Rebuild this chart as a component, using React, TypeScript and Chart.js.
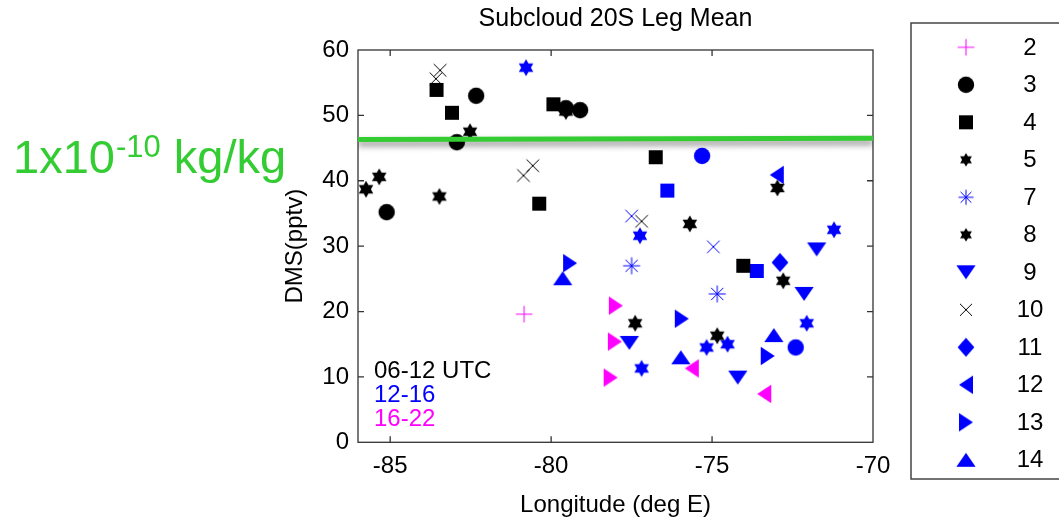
import React, { useEffect, useRef } from 'react';
import { Chart, registerables } from 'chart.js';

Chart.register(...registerables);

// ---------- data ----------
const xTicks = [-85, -80, -75, -70];
const yTicks = [0, 10, 20, 30, 40, 50, 60];
const thresholdLine = [{ x: -86, y: 46.3 }, { x: -70, y: 46.5 }];

const f2Magenta = [{ x: -80.84, y: 19.6 }];
const f3Black = [
  { x: -82.33, y: 53.0 }, { x: -79.54, y: 51.1 }, { x: -79.1, y: 50.8 },
  { x: -82.93, y: 45.9 }, { x: -85.11, y: 35.2 },
];
const f3Blue = [{ x: -75.31, y: 43.8 }, { x: -72.4, y: 14.5 }];
const f4Black = [
  { x: -83.56, y: 53.9 }, { x: -83.08, y: 50.4 }, { x: -79.93, y: 51.7 },
  { x: -80.37, y: 36.5 }, { x: -76.75, y: 43.6 }, { x: -74.03, y: 27.0 },
];
const f4Blue = [{ x: -76.39, y: 38.5 }, { x: -73.61, y: 26.2 }];
const f5Black = [
  { x: -85.34, y: 40.6 }, { x: -85.75, y: 38.7 }, { x: -83.47, y: 37.6 },
  { x: -82.52, y: 47.5 }, { x: -79.54, y: 50.6 },
];
const f7Blue = [{ x: -77.5, y: 27.0 }, { x: -74.84, y: 22.7 }];
const f8Black = [
  { x: -75.69, y: 33.4 }, { x: -72.97, y: 38.9 }, { x: -72.79, y: 24.7 },
  { x: -77.39, y: 18.2 }, { x: -74.84, y: 16.3 },
];
const f8Blue = [
  { x: -80.78, y: 57.3 }, { x: -71.21, y: 32.5 }, { x: -77.24, y: 31.6 },
  { x: -72.06, y: 18.2 }, { x: -75.17, y: 14.5 }, { x: -74.52, y: 15.0 },
  { x: -77.19, y: 11.3 },
];
const f9Blue = [
  { x: -71.75, y: 29.5 }, { x: -72.14, y: 22.7 }, { x: -77.57, y: 15.2 },
  { x: -74.2, y: 9.9 },
];
const f10Black = [
  { x: -83.45, y: 56.9 }, { x: -83.58, y: 55.6 }, { x: -80.57, y: 42.3 },
  { x: -80.86, y: 40.8 }, { x: -77.19, y: 33.8 },
];
const f10Blue = [{ x: -77.5, y: 34.6 }, { x: -74.96, y: 29.9 }];
const f11Blue = [{ x: -72.89, y: 27.5 }];
const f12Blue = [{ x: -72.99, y: 40.9 }];
const f12Magenta = [{ x: -75.63, y: 11.3 }, { x: -73.38, y: 7.4 }];
const f13Blue = [{ x: -79.41, y: 27.4 }, { x: -75.94, y: 18.9 }, { x: -73.27, y: 13.2 }];
const f13Magenta = [{ x: -77.99, y: 20.9 }, { x: -78.02, y: 15.4 }, { x: -78.15, y: 9.9 }];
const f14Blue = [{ x: -79.64, y: 25.1 }, { x: -75.97, y: 13.0 }, { x: -73.08, y: 16.4 }];

const legendLabels = ['2', '3', '4', '5', '7', '8', '9', '10', '11', '12', '13', '14'];
const periodLabels = ['06-12 UTC', '12-16', '16-22'];

// ---------- styles ----------
const BLACK = '#000000';
const BLUE = '#0000ff';
const MAGENTA = '#ff00ff';
const GREEN = '#33cc33';
const FONT = "'Liberation Sans', Arial, Helvetica, sans-serif";

type Kind = 'plus' | 'circle' | 'square' | 'hexagram' | 'asterisk' | 'triDown' | 'x' | 'diamond' | 'triLeft' | 'triRight' | 'triUp';

const cache = new Map<string, HTMLCanvasElement>();
function marker(kind: Kind, color: string, legend = false): HTMLCanvasElement {
  const key = kind + color + legend;
  const hit = cache.get(key);
  if (hit) return hit;
  const W = 24;
  const c = document.createElement('canvas');
  c.width = W;
  c.height = W;
  const g = c.getContext('2d')!;
  const cx = W / 2, cy = W / 2;
  g.fillStyle = color;
  g.strokeStyle = color;
  g.lineWidth = 1;
  g.beginPath();
  const poly = (pts: number[][]) => {
    g.moveTo(cx + pts[0][0], cy + pts[0][1]);
    for (let i = 1; i < pts.length; i++) g.lineTo(cx + pts[i][0], cy + pts[i][1]);
    g.closePath();
    g.fill();
  };
  switch (kind) {
    case 'plus': {
      const r = 8.3;
      g.moveTo(cx - r, cy); g.lineTo(cx + r, cy);
      g.moveTo(cx, cy - r); g.lineTo(cx, cy + r);
      g.stroke();
      break;
    }
    case 'x': {
      const d = legend ? 6 : 6.3;
      g.moveTo(cx - d, cy - d); g.lineTo(cx + d, cy + d);
      g.moveTo(cx + d, cy - d); g.lineTo(cx - d, cy + d);
      g.stroke();
      break;
    }
    case 'asterisk': {
      const r = legend ? 7.5 : 8.5;
      const d = r * 0.72;
      g.moveTo(cx - r, cy); g.lineTo(cx + r, cy);
      g.moveTo(cx, cy - r); g.lineTo(cx, cy + r);
      g.moveTo(cx - d, cy - d); g.lineTo(cx + d, cy + d);
      g.moveTo(cx + d, cy - d); g.lineTo(cx - d, cy + d);
      g.stroke();
      break;
    }
    case 'circle':
      g.arc(cx, cy, 8.2, 0, Math.PI * 2);
      g.fill();
      break;
    case 'square':
      g.fillRect(cx - 7, cy - 7, 14, 14);
      break;
    case 'diamond':
      poly([[0, -9.5], [8.4, 0], [0, 9.5], [-8.4, 0]]);
      break;
    case 'hexagram': {
      const R = legend ? 6.8 : 8.4;
      const r = R / Math.sqrt(3);
      const pts: number[][] = [];
      for (let i = 0; i < 12; i++) {
        const a = -Math.PI / 2 + (i * Math.PI) / 6;
        const rr = i % 2 === 0 ? R : r;
        pts.push([rr * Math.cos(a), rr * Math.sin(a)]);
      }
      poly(pts);
      break;
    }
    case 'triUp':
      poly([[0, -7], [9.6, 7], [-9.6, 7]]);
      break;
    case 'triDown':
      poly([[0, 7], [9.6, -7], [-9.6, -7]]);
      break;
    case 'triLeft':
      poly([[-7, 0], [7, -9.3], [7, 9.3]]);
      break;
    case 'triRight':
      poly([[7, 0], [-7, -9.3], [-7, 9.3]]);
      break;
  }
  cache.set(key, c);
  return c;
}

const seriesList: { label: string; data: { x: number; y: number }[]; kind: Kind; color: string }[] = [
  { label: '2', data: f2Magenta, kind: 'plus', color: MAGENTA },
  { label: '3', data: f3Black, kind: 'circle', color: BLACK },
  { label: '3', data: f3Blue, kind: 'circle', color: BLUE },
  { label: '4', data: f4Black, kind: 'square', color: BLACK },
  { label: '4', data: f4Blue, kind: 'square', color: BLUE },
  { label: '5', data: f5Black, kind: 'hexagram', color: BLACK },
  { label: '7', data: f7Blue, kind: 'asterisk', color: BLUE },
  { label: '8', data: f8Black, kind: 'hexagram', color: BLACK },
  { label: '8', data: f8Blue, kind: 'hexagram', color: BLUE },
  { label: '9', data: f9Blue, kind: 'triDown', color: BLUE },
  { label: '10', data: f10Black, kind: 'x', color: BLACK },
  { label: '10', data: f10Blue, kind: 'x', color: BLUE },
  { label: '11', data: f11Blue, kind: 'diamond', color: BLUE },
  { label: '12', data: f12Blue, kind: 'triLeft', color: BLUE },
  { label: '12', data: f12Magenta, kind: 'triLeft', color: MAGENTA },
  { label: '13', data: f13Blue, kind: 'triRight', color: BLUE },
  { label: '13', data: f13Magenta, kind: 'triRight', color: MAGENTA },
  { label: '14', data: f14Blue, kind: 'triUp', color: BLUE },
];

const periodColors = [BLACK, BLUE, MAGENTA];

const decorPlugin = {
  id: 'decor',
  beforeDatasetsDraw(chart: any) {
    const { ctx, chartArea: a, scales } = chart;
    ctx.save();
    ctx.strokeStyle = '#333333';
    ctx.lineWidth = 1.3;
    ctx.strokeRect(a.left, a.top, a.right - a.left, a.bottom - a.top);
    const tl = 6;
    ctx.beginPath();
    xTicks.forEach((v) => {
      const p = scales.x.getPixelForValue(v);
      if (p > a.left + 1 && p < a.right - 1) {
        ctx.moveTo(p, a.bottom); ctx.lineTo(p, a.bottom - tl);
        ctx.moveTo(p, a.top); ctx.lineTo(p, a.top + tl);
      }
    });
    yTicks.forEach((v) => {
      const p = scales.y.getPixelForValue(v);
      if (p > a.top + 1 && p < a.bottom - 1) {
        ctx.moveTo(a.left, p); ctx.lineTo(a.left + tl, p);
        ctx.moveTo(a.right, p); ctx.lineTo(a.right - tl, p);
      }
    });
    ctx.stroke();
    ctx.restore();
  },
  beforeDatasetDraw(chart: any, args: any) {
    if (args.index === 0) {
      const ctx = chart.ctx;
      ctx.save();
      ctx.shadowColor = 'rgba(0,0,0,0.45)';
      ctx.shadowBlur = 6;
      ctx.shadowOffsetY = 4;
    }
  },
  afterDatasetDraw(chart: any, args: any) {
    if (args.index === 0) chart.ctx.restore();
  },
  afterDraw(chart: any) {
    const ctx = chart.ctx;
    ctx.save();
    // time period labels
    ctx.font = `24px ${FONT}`;
    ctx.textAlign = 'left';
    ctx.textBaseline = 'alphabetic';
    periodLabels.forEach((t, i) => {
      ctx.fillStyle = periodColors[i];
      ctx.fillText(t, 374, 378 + i * 24);
    });
    // green annotation
    ctx.fillStyle = GREEN;
    ctx.font = `47px ${FONT}`;
    ctx.fillText('1x10', 13, 173);
    let x = 13 + ctx.measureText('1x10').width + 1;
    ctx.font = `31px ${FONT}`;
    ctx.fillText('-10', x, 157);
    x += ctx.measureText('-10').width;
    ctx.font = `47px ${FONT}`;
    ctx.fillText(' kg/kg', x, 173);
    // legend box
    ctx.strokeStyle = '#444444';
    ctx.lineWidth = 1.5;
    ctx.strokeRect(911, 23, 170, 456);
    const kinds: Kind[] = [];
    const colors: string[] = [];
    legendLabels.forEach((lab) => {
      const s = seriesList.find((q) => q.label === lab)!;
      kinds.push(s.kind);
      colors.push(s.color);
    });
    ctx.font = `24px ${FONT}`;
    ctx.textAlign = 'center';
    ctx.textBaseline = 'middle';
    ctx.fillStyle = BLACK;
    legendLabels.forEach((lab, i) => {
      const y = 47.3 + i * 37.5;
      const img = marker(kinds[i], colors[i], true);
      ctx.drawImage(img, 966 - img.width / 2, y - img.height / 2);
      ctx.fillText(lab, 1030, y + 1);
    });
    ctx.restore();
  },
};

export default function App() {
  const ref = useRef<HTMLCanvasElement>(null);
  useEffect(() => {
    Chart.defaults.font.family = FONT;
    Chart.defaults.color = '#000000';
    const datasets: any[] = [
      {
        type: 'line',
        label: 'threshold',
        data: thresholdLine,
        borderColor: GREEN,
        borderWidth: 5,
        pointRadius: 0,
        fill: false,
        order: 0,
      },
      ...seriesList.map((s) => ({
        type: 'scatter',
        label: s.label,
        data: s.data,
        pointStyle: marker(s.kind, s.color),
        pointRadius: 8,
        order: 1,
      })),
    ];
    const chart = new Chart(ref.current!, {
      type: 'scatter',
      data: { datasets },
      options: {
        animation: false,
        responsive: false,
        devicePixelRatio: 1,
        layout: { padding: { left: 0, right: 186, top: 0, bottom: 0 } },
        plugins: {
          legend: { display: false },
          tooltip: { enabled: false },
          title: {
            display: true,
            text: 'Subcloud 20S Leg Mean',
            fullSize: false,
            color: '#000000',
            font: { size: 25, weight: 'normal', family: FONT },
            padding: { top: 4, bottom: 16 },
          },
        },
        scales: {
          x: {
            type: 'linear',
            min: -86,
            max: -70,
            afterBuildTicks: (s: any) => { s.ticks = xTicks.map((v) => ({ value: v })); },
            afterFit: (s: any) => { s.height = 77.7; },
            grid: { display: false, drawTicks: false },
            border: { display: false },
            ticks: { font: { size: 24 }, color: '#000000', padding: 10, autoSkip: false, maxRotation: 0 },
            title: {
              display: true,
              text: 'Longitude (deg E)',
              color: '#000000',
              font: { size: 24 },
              padding: { top: 0, bottom: 0 },
            },
          },
          y: {
            type: 'linear',
            min: 0,
            max: 60,
            afterBuildTicks: (s: any) => { s.ticks = yTicks.map((v) => ({ value: v })); },
            afterFit: (s: any) => { s.width = 358; },
            grid: { display: false, drawTicks: false },
            border: { display: false },
            ticks: { font: { size: 24 }, color: '#000000', padding: 9, autoSkip: false },
            title: {
              display: true,
              text: 'DMS(pptv)',
              color: '#000000',
              font: { size: 24 },
              padding: { top: 280.6, bottom: 0 },
            },
          },
        },
      },
      plugins: [decorPlugin],
    } as any);
    return () => chart.destroy();
  }, []);
  return (
    <div style={{ position: 'absolute', left: 0, top: 0, width: 1059, height: 520, background: '#ffffff' }}>
      <canvas ref={ref} width={1059} height={520} style={{ display: 'block' }} />
    </div>
  );
}
